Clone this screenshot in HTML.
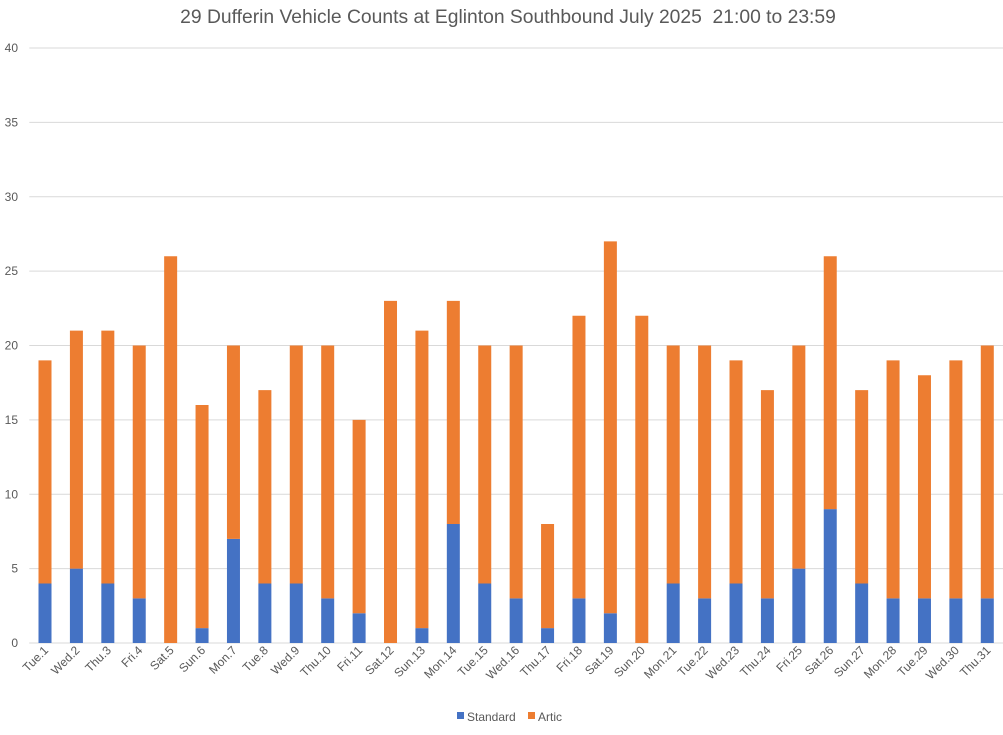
<!DOCTYPE html>
<html><head><meta charset="utf-8"><style>
body{margin:0;background:#fff;font-family:"Liberation Sans",Arial,sans-serif;}
svg text{font-family:"Liberation Sans",Arial,sans-serif;fill:#595959;}
</style></head><body>
<svg id="chart" width="1003" height="730">
<text x="508" y="23" font-size="19.3" text-anchor="middle" style="white-space:pre">29 Dufferin Vehicle Counts at Eglinton Southbound July 2025  21:00 to 23:59</text>
<g id="grid"></g><g id="bars"></g><g id="xlabels"></g>
<g>
<rect x="457" y="712" width="7" height="7" fill="#4472C4"/>
<text x="467" y="721" font-size="12">Standard</text>
<rect x="528" y="712" width="7" height="7" fill="#ED7D31"/>
<text x="538" y="721" font-size="12">Artic</text>
</g>
</svg>
<script>
const categories=["Tue.1","Wed.2","Thu.3","Fri.4","Sat.5","Sun.6","Mon.7","Tue.8","Wed.9","Thu.10","Fri.11","Sat.12","Sun.13","Mon.14","Tue.15","Wed.16","Thu.17","Fri.18","Sat.19","Sun.20","Mon.21","Tue.22","Wed.23","Thu.24","Fri.25","Sat.26","Sun.27","Mon.28","Tue.29","Wed.30","Thu.31"];
const standard=[4,5,4,3,0,1,7,4,4,3,2,0,1,8,4,3,1,3,2,0,4,3,4,3,5,9,4,3,3,3,3];
const artic=[15,16,17,17,26,15,13,13,16,17,13,23,20,15,16,17,7,19,25,22,16,17,15,14,15,17,13,16,15,16,17];
const yTicks=[0,5,10,15,20,25,30,35,40];
const NS="http://www.w3.org/2000/svg";
const L=29.3,R=1003,T=48,B=643,maxY=40;
const bw=(R-L)/categories.length;
const y=v=>B-(v/maxY)*(B-T);
const xc=i=>L+bw*(i+0.5);
function mk(tag,attrs,parent){const e=document.createElementNS(NS,tag);for(const k in attrs)e.setAttribute(k,attrs[k]);document.getElementById(parent).appendChild(e);return e;}
yTicks.forEach(t=>{
 const l=mk('line',{x1:L,x2:R,y1:y(t),y2:y(t),stroke:'#d9d9d9','stroke-width':1},'grid');
 
 
 const tx=mk('text',{x:18,y:y(t)+4,'font-size':12,'text-anchor':'end'},'grid');
 tx.textContent=t;
 
 
});
const W=13;
categories.forEach((c,i)=>{
 const s=standard[i],a=artic[i];
 const r1=mk('rect',{x:xc(i)-W/2,y:y(s),width:W,height:B-y(s),fill:'#4472C4'},'bars');
 
 
 const r2=mk('rect',{x:xc(i)-W/2,y:y(s+a),width:W,height:y(s)-y(s+a),fill:'#ED7D31'},'bars');
 
 
 const tx=mk('text',{x:xc(i)+4,y:B+8,'font-size':12,'text-anchor':'end',transform:`rotate(-45 ${xc(i)+4} ${B+8})`},'xlabels');
 tx.textContent=c;
 
 
});
const ax=mk('line',{x1:L,x2:R,y1:B,y2:B,stroke:'#d9d9d9','stroke-width':1},'grid');


</script>
</body></html>
